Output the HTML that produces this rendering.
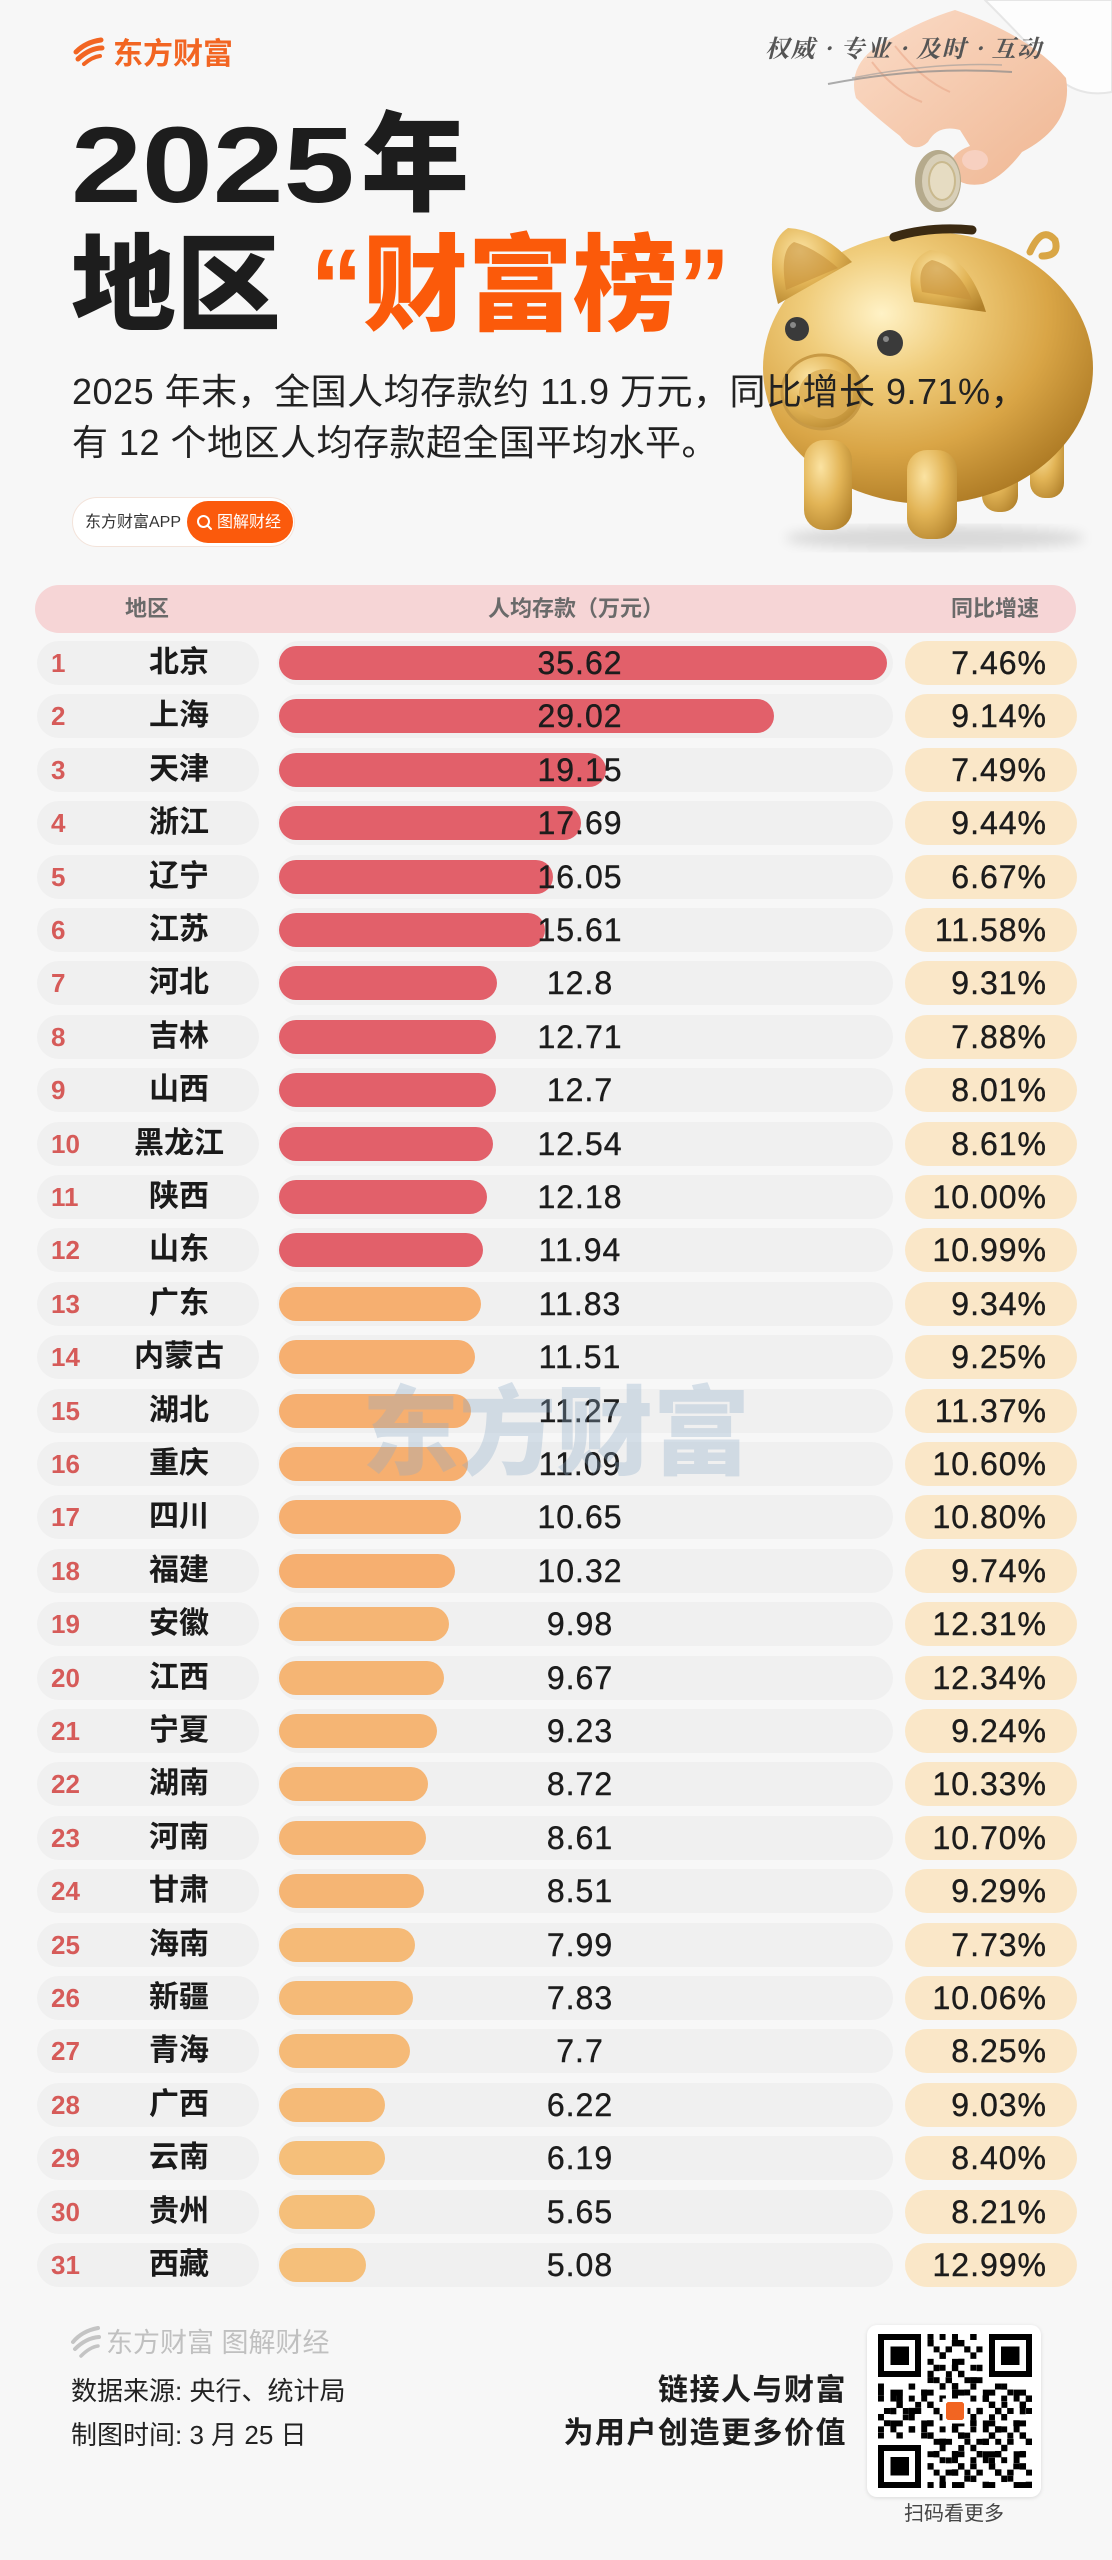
<!DOCTYPE html>
<html><head><meta charset="utf-8">
<style>
*{margin:0;padding:0;box-sizing:border-box}
body{width:1112px;height:2560px;background:#f7f7f7;position:relative;overflow:hidden;font-family:"Liberation Sans","Noto Sans CJK SC",sans-serif;color:#1a1a1a}
.a{position:absolute;white-space:nowrap}
.row{position:absolute;left:0;width:1112px;height:44px}
.lp{position:absolute;left:37px;top:0;width:222px;height:44px;border-radius:22px;background:#f0f0f0}
.rk{position:absolute;left:51px;top:0;line-height:44px;font-size:26px;font-weight:bold;color:#d65b59}
.nm{position:absolute;left:99px;width:160px;text-align:center;top:0;line-height:44px;font-size:30px;font-weight:700;color:#1a1a1a}
.tr{position:absolute;left:277px;width:616px;top:0;height:44px;border-radius:22px;background:#f0f0f0}
.br{position:absolute;left:279px;top:5px;height:34px;border-radius:17px}
.r{background:#e2606a}
.o1{background:#f6af70}.o2{background:#f5b574}.o3{background:#f5ba77}.o4{background:#f5bf7a}
.vl{position:absolute;left:480px;width:200px;text-align:center;top:0;line-height:44px;font-size:32px;letter-spacing:1px;color:#1c1c1c;-webkit-text-stroke:0.4px #1c1c1c}
.rp{position:absolute;left:905px;width:172px;top:0;height:44px;border-radius:22px;background:#fae7c8}
.pc{position:absolute;left:905px;width:142px;text-align:right;top:0;line-height:44px;font-size:32px;letter-spacing:1px;color:#1c1c1c;-webkit-text-stroke:0.4px #1c1c1c}
.hd{position:absolute;top:585px;height:48px;line-height:48px;font-size:22px;font-weight:700;color:#6a6a6a;text-align:center}
</style></head><body>

<svg class="a" style="left:0;top:0" width="1112" height="560" viewBox="0 0 1112 560">
<defs>
<radialGradient id="gold" cx="0.36" cy="0.3" r="0.78">
<stop offset="0" stop-color="#fff2c6"/>
<stop offset="0.3" stop-color="#f0cd7c"/>
<stop offset="0.65" stop-color="#d9a546"/>
<stop offset="1" stop-color="#a87520"/>
</radialGradient>
<radialGradient id="gold2" cx="0.35" cy="0.3" r="0.85">
<stop offset="0" stop-color="#fbe3a2"/>
<stop offset="0.5" stop-color="#e2b456"/>
<stop offset="1" stop-color="#b0802a"/>
</radialGradient>
<linearGradient id="skin" x1="0" y1="0" x2="1" y2="1">
<stop offset="0" stop-color="#fbdcc8"/>
<stop offset="1" stop-color="#efb692"/>
</linearGradient>
<filter id="bl"><feGaussianBlur stdDeviation="6"/></filter>
</defs>
<!-- hand -->
<path d="M985 0 L1112 0 L1112 92 Q1080 98 1058 78 Q1030 45 985 0Z" fill="#fdfdfd" stroke="#e6e6e6" stroke-width="2"/>
<path d="M955 10 Q1030 35 1066 78 Q1074 125 1022 152 Q1002 178 983 184 Q958 188 949 170 Q950 153 970 146 L960 130 Q938 124 928 142 Q914 155 900 136 Q872 114 856 98 Q848 70 872 50 Q915 22 955 10Z" fill="url(#skin)"/>
<path d="M872 62 Q895 92 922 102 M895 46 Q922 80 950 92" stroke="#e9a98a" stroke-width="2" fill="none" opacity="0.6"/>
<ellipse cx="975" cy="160" rx="13" ry="10" fill="#f7d0c0"/>
<!-- coin -->
<ellipse cx="938" cy="181" rx="23" ry="31" fill="#b5aa8c"/>
<ellipse cx="941" cy="181" rx="19" ry="27" fill="#d8cfb8"/>
<ellipse cx="942" cy="181" rx="13" ry="19" fill="#e6dcc2" stroke="#c9b98e" stroke-width="2"/>
<!-- brush strokes -->
<path d="M828 84 Q920 66 1012 72" stroke="#8a8a8a" stroke-width="2" fill="none" opacity="0.7"/>
<path d="M852 78 Q935 62 1002 65" stroke="#9a9a9a" stroke-width="1.5" fill="none" opacity="0.6"/>
<!-- pig shadow -->
<ellipse cx="935" cy="538" rx="150" ry="12" fill="#000" opacity="0.12" filter="url(#bl)"/>
<!-- tail -->
<path d="M1030 252 Q1042 225 1055 240 Q1060 256 1042 256" stroke="#d9a646" stroke-width="7" fill="none" stroke-linecap="round"/>
<!-- back legs -->
<rect x="1030" y="430" width="34" height="68" rx="15" fill="url(#gold2)"/>
<rect x="982" y="440" width="36" height="72" rx="16" fill="url(#gold2)"/>
<!-- body -->
<ellipse cx="928" cy="368" rx="165" ry="136" fill="url(#gold)"/>
<!-- front legs -->
<rect x="804" y="440" width="48" height="90" rx="20" fill="url(#gold2)"/>
<rect x="907" y="450" width="50" height="89" rx="20" fill="url(#gold2)"/>
<!-- ears -->
<path d="M778 304 Q762 244 788 228 Q822 230 852 262 Z" fill="url(#gold2)"/>
<path d="M786 290 Q779 250 794 242 Q815 248 838 268Z" fill="#c48e38" opacity="0.55"/>
<path d="M914 302 Q902 262 930 250 Q968 254 986 312 Z" fill="url(#gold2)"/>
<path d="M922 292 Q916 266 932 260 Q958 266 972 300Z" fill="#c48e38" opacity="0.55"/>
<!-- slot -->
<path d="M894 237 Q930 226 972 230" stroke="#3b2a12" stroke-width="9" fill="none" stroke-linecap="round"/>
<!-- eyes -->
<circle cx="797" cy="329" r="12" fill="#3a3a3a"/>
<circle cx="890" cy="343" r="13" fill="#3a3a3a"/>
<circle cx="793" cy="325" r="3" fill="#888"/>
<circle cx="886" cy="339" r="3" fill="#888"/>
<!-- snout -->
<ellipse cx="822" cy="392" rx="40" ry="37" fill="url(#gold2)" stroke="#c89a45" stroke-width="3"/>
<ellipse cx="826" cy="394" rx="27" ry="25" fill="#dcae55" opacity="0.8"/>
<!-- logo icon -->
<path d="M76 52 Q86 42 101 40" stroke="#f26522" stroke-width="5" fill="none" stroke-linecap="round"/>
<path d="M78 59 Q90 48 102 48" stroke="#f26522" stroke-width="5" fill="none" stroke-linecap="round"/>
<path d="M84 64 Q92 57 100 56" stroke="#f26522" stroke-width="4" fill="none" stroke-linecap="round"/>
</svg>

<div class="a" style="left:113px;top:40px;font-size:30px;line-height:30px;font-weight:700;color:#f26522">东方财富</div>
<div class="a" style="left:765px;top:35px;font-size:24px;line-height:24px;font-weight:700;color:#555;font-family:'Noto Serif CJK SC',serif;font-style:italic;letter-spacing:1.5px">权威 · 专业 · 及时 · 互动</div>

<div class="a" style="left:71px;top:111px;font-size:108px;line-height:108px;font-weight:900;color:#1d1d1d"><span style="display:inline-block;width:290px"><span style="display:inline-block;transform:scaleX(1.18);transform-origin:0 0">2025</span></span>年</div>
<div class="a" style="left:71px;top:234px;font-size:105px;line-height:105px;font-weight:900;color:#1d1d1d">地区 <span style="color:#fb5a0a">“财富榜”</span></div>

<div class="a" style="left:72px;top:374px;font-size:36px;line-height:36px;color:#222;letter-spacing:0.5px">2025 年末，全国人均存款约 11.9 万元，同比增长 9.71%，</div>
<div class="a" style="left:72px;top:425px;font-size:36px;line-height:36px;color:#222;letter-spacing:0.5px">有 12 个地区人均存款超全国平均水平。</div>

<div class="a" style="left:72px;top:497px;width:223px;height:50px;border-radius:25px;background:#fff;border:1px solid #f3e3da"></div>
<div class="a" style="left:187px;top:501px;width:106px;height:42px;border-radius:21px;background:#fb5a0c"></div>
<div class="a" style="left:85px;top:511px;font-size:16px;line-height:24px;color:#333">东方财富APP</div>
<svg class="a" style="left:196px;top:514px" width="17" height="18"><circle cx="7.5" cy="7.5" r="5.5" stroke="#fff" stroke-width="2" fill="none"/><path d="M11.5 11.5 L15 15" stroke="#fff" stroke-width="2" stroke-linecap="round"/></svg>
<div class="a" style="left:217px;top:511px;font-size:16px;line-height:24px;color:#fff">图解财经</div>

<div class="a" style="left:35px;top:585px;width:1041px;height:48px;border-radius:24px;background:#f6d5d6"></div>
<div class="hd" style="left:87px;width:120px">地区</div>
<div class="hd" style="left:436px;width:280px">人均存款（万元）</div>
<div class="hd" style="left:935px;width:120px">同比增速</div>

<div class="row" style="top:641px"><div class="lp"></div><div class="rk">1</div><div class="nm">北京</div><div class="tr"></div><div class="br r" style="width:608px"></div><div class="vl">35.62</div><div class="rp"></div><div class="pc">7.46%</div></div>
<div class="row" style="top:694.4px"><div class="lp"></div><div class="rk">2</div><div class="nm">上海</div><div class="tr"></div><div class="br r" style="width:495px"></div><div class="vl">29.02</div><div class="rp"></div><div class="pc">9.14%</div></div>
<div class="row" style="top:747.8px"><div class="lp"></div><div class="rk">3</div><div class="nm">天津</div><div class="tr"></div><div class="br r" style="width:327px"></div><div class="vl">19.15</div><div class="rp"></div><div class="pc">7.49%</div></div>
<div class="row" style="top:801.2px"><div class="lp"></div><div class="rk">4</div><div class="nm">浙江</div><div class="tr"></div><div class="br r" style="width:302px"></div><div class="vl">17.69</div><div class="rp"></div><div class="pc">9.44%</div></div>
<div class="row" style="top:854.6px"><div class="lp"></div><div class="rk">5</div><div class="nm">辽宁</div><div class="tr"></div><div class="br r" style="width:274px"></div><div class="vl">16.05</div><div class="rp"></div><div class="pc">6.67%</div></div>
<div class="row" style="top:908px"><div class="lp"></div><div class="rk">6</div><div class="nm">江苏</div><div class="tr"></div><div class="br r" style="width:266px"></div><div class="vl">15.61</div><div class="rp"></div><div class="pc">11.58%</div></div>
<div class="row" style="top:961.4px"><div class="lp"></div><div class="rk">7</div><div class="nm">河北</div><div class="tr"></div><div class="br r" style="width:218px"></div><div class="vl">12.8</div><div class="rp"></div><div class="pc">9.31%</div></div>
<div class="row" style="top:1014.8px"><div class="lp"></div><div class="rk">8</div><div class="nm">吉林</div><div class="tr"></div><div class="br r" style="width:217px"></div><div class="vl">12.71</div><div class="rp"></div><div class="pc">7.88%</div></div>
<div class="row" style="top:1068.2px"><div class="lp"></div><div class="rk">9</div><div class="nm">山西</div><div class="tr"></div><div class="br r" style="width:217px"></div><div class="vl">12.7</div><div class="rp"></div><div class="pc">8.01%</div></div>
<div class="row" style="top:1121.6px"><div class="lp"></div><div class="rk">10</div><div class="nm">黑龙江</div><div class="tr"></div><div class="br r" style="width:214px"></div><div class="vl">12.54</div><div class="rp"></div><div class="pc">8.61%</div></div>
<div class="row" style="top:1175px"><div class="lp"></div><div class="rk">11</div><div class="nm">陕西</div><div class="tr"></div><div class="br r" style="width:208px"></div><div class="vl">12.18</div><div class="rp"></div><div class="pc">10.00%</div></div>
<div class="row" style="top:1228.4px"><div class="lp"></div><div class="rk">12</div><div class="nm">山东</div><div class="tr"></div><div class="br r" style="width:204px"></div><div class="vl">11.94</div><div class="rp"></div><div class="pc">10.99%</div></div>
<div class="row" style="top:1281.8px"><div class="lp"></div><div class="rk">13</div><div class="nm">广东</div><div class="tr"></div><div class="br o1" style="width:202px"></div><div class="vl">11.83</div><div class="rp"></div><div class="pc">9.34%</div></div>
<div class="row" style="top:1335.2px"><div class="lp"></div><div class="rk">14</div><div class="nm">内蒙古</div><div class="tr"></div><div class="br o1" style="width:196px"></div><div class="vl">11.51</div><div class="rp"></div><div class="pc">9.25%</div></div>
<div class="row" style="top:1388.6px"><div class="lp"></div><div class="rk">15</div><div class="nm">湖北</div><div class="tr"></div><div class="br o1" style="width:192px"></div><div class="vl">11.27</div><div class="rp"></div><div class="pc">11.37%</div></div>
<div class="row" style="top:1442px"><div class="lp"></div><div class="rk">16</div><div class="nm">重庆</div><div class="tr"></div><div class="br o1" style="width:189px"></div><div class="vl">11.09</div><div class="rp"></div><div class="pc">10.60%</div></div>
<div class="row" style="top:1495.4px"><div class="lp"></div><div class="rk">17</div><div class="nm">四川</div><div class="tr"></div><div class="br o1" style="width:182px"></div><div class="vl">10.65</div><div class="rp"></div><div class="pc">10.80%</div></div>
<div class="row" style="top:1548.8px"><div class="lp"></div><div class="rk">18</div><div class="nm">福建</div><div class="tr"></div><div class="br o1" style="width:176px"></div><div class="vl">10.32</div><div class="rp"></div><div class="pc">9.74%</div></div>
<div class="row" style="top:1602.2px"><div class="lp"></div><div class="rk">19</div><div class="nm">安徽</div><div class="tr"></div><div class="br o2" style="width:170px"></div><div class="vl">9.98</div><div class="rp"></div><div class="pc">12.31%</div></div>
<div class="row" style="top:1655.6px"><div class="lp"></div><div class="rk">20</div><div class="nm">江西</div><div class="tr"></div><div class="br o2" style="width:165px"></div><div class="vl">9.67</div><div class="rp"></div><div class="pc">12.34%</div></div>
<div class="row" style="top:1709px"><div class="lp"></div><div class="rk">21</div><div class="nm">宁夏</div><div class="tr"></div><div class="br o2" style="width:158px"></div><div class="vl">9.23</div><div class="rp"></div><div class="pc">9.24%</div></div>
<div class="row" style="top:1762.4px"><div class="lp"></div><div class="rk">22</div><div class="nm">湖南</div><div class="tr"></div><div class="br o2" style="width:149px"></div><div class="vl">8.72</div><div class="rp"></div><div class="pc">10.33%</div></div>
<div class="row" style="top:1815.8px"><div class="lp"></div><div class="rk">23</div><div class="nm">河南</div><div class="tr"></div><div class="br o2" style="width:147px"></div><div class="vl">8.61</div><div class="rp"></div><div class="pc">10.70%</div></div>
<div class="row" style="top:1869.2px"><div class="lp"></div><div class="rk">24</div><div class="nm">甘肃</div><div class="tr"></div><div class="br o2" style="width:145px"></div><div class="vl">8.51</div><div class="rp"></div><div class="pc">9.29%</div></div>
<div class="row" style="top:1922.6px"><div class="lp"></div><div class="rk">25</div><div class="nm">海南</div><div class="tr"></div><div class="br o3" style="width:136px"></div><div class="vl">7.99</div><div class="rp"></div><div class="pc">7.73%</div></div>
<div class="row" style="top:1976px"><div class="lp"></div><div class="rk">26</div><div class="nm">新疆</div><div class="tr"></div><div class="br o3" style="width:134px"></div><div class="vl">7.83</div><div class="rp"></div><div class="pc">10.06%</div></div>
<div class="row" style="top:2029.4px"><div class="lp"></div><div class="rk">27</div><div class="nm">青海</div><div class="tr"></div><div class="br o3" style="width:131px"></div><div class="vl">7.7</div><div class="rp"></div><div class="pc">8.25%</div></div>
<div class="row" style="top:2082.8px"><div class="lp"></div><div class="rk">28</div><div class="nm">广西</div><div class="tr"></div><div class="br o3" style="width:106px"></div><div class="vl">6.22</div><div class="rp"></div><div class="pc">9.03%</div></div>
<div class="row" style="top:2136.2px"><div class="lp"></div><div class="rk">29</div><div class="nm">云南</div><div class="tr"></div><div class="br o4" style="width:106px"></div><div class="vl">6.19</div><div class="rp"></div><div class="pc">8.40%</div></div>
<div class="row" style="top:2189.6px"><div class="lp"></div><div class="rk">30</div><div class="nm">贵州</div><div class="tr"></div><div class="br o4" style="width:96px"></div><div class="vl">5.65</div><div class="rp"></div><div class="pc">8.21%</div></div>
<div class="row" style="top:2243px"><div class="lp"></div><div class="rk">31</div><div class="nm">西藏</div><div class="tr"></div><div class="br o4" style="width:87px"></div><div class="vl">5.08</div><div class="rp"></div><div class="pc">12.99%</div></div>

<!-- watermark -->
<div class="a" style="left:362px;top:1385px;font-size:97px;line-height:97px;font-weight:900;color:rgba(140,170,200,0.32)">东方财富</div>

<!-- footer -->
<svg class="a" style="left:70px;top:2326px" width="32" height="34">
<path d="M3 16 Q12 5 28 2" stroke="#c4c4c4" stroke-width="4" fill="none" stroke-linecap="round"/>
<path d="M5 23 Q16 12 29 11" stroke="#c4c4c4" stroke-width="4" fill="none" stroke-linecap="round"/>
<path d="M11 30 Q20 21 28 20" stroke="#c4c4c4" stroke-width="3.5" fill="none" stroke-linecap="round"/>
</svg>
<div class="a" style="left:106px;top:2328px;font-size:27px;line-height:30px;color:#c0c0c0">东方财富 图解财经</div>
<div class="a" style="left:71px;top:2376px;font-size:26px;line-height:30px;color:#222">数据来源: 央行、统计局</div>
<div class="a" style="left:71px;top:2420px;font-size:26px;line-height:30px;color:#222">制图时间: 3 月 25 日</div>
<div class="a" style="left:500px;width:347px;text-align:right;top:2375px;font-size:30px;line-height:32px;font-weight:700;color:#1d1d1d;letter-spacing:1.5px">链接人与财富</div>
<div class="a" style="left:500px;width:347px;text-align:right;top:2418px;font-size:30px;line-height:32px;font-weight:700;color:#1d1d1d;letter-spacing:1.5px">为用户创造更多价值</div>

<div class="a" style="left:867px;top:2325px;width:174px;height:172px;border-radius:10px;background:#fff;box-shadow:0 1px 4px rgba(0,0,0,0.12)"></div>
<svg class="a" style="left:878px;top:2334px" width="154" height="154" viewBox="0 0 25 25" shape-rendering="crispEdges">
<defs>
<pattern id="pa" width="5" height="5" patternUnits="userSpaceOnUse">
<rect x="0" y="0" width="1" height="1"/><rect x="2" y="0" width="1" height="1"/><rect x="3" y="1" width="1" height="1"/><rect x="1" y="2" width="1" height="1"/><rect x="4" y="2" width="1" height="1"/><rect x="0" y="3" width="1" height="1"/><rect x="2" y="4" width="1" height="1"/><rect x="3" y="4" width="1" height="1"/>
</pattern>
<pattern id="pb" width="7" height="7" patternUnits="userSpaceOnUse">
<rect x="1" y="0" width="1" height="1"/><rect x="5" y="1" width="1" height="1"/><rect x="0" y="2" width="1" height="1"/><rect x="3" y="3" width="1" height="1"/><rect x="6" y="4" width="1" height="1"/><rect x="2" y="5" width="1" height="1"/><rect x="4" y="6" width="1" height="1"/><rect x="5" y="5" width="1" height="1"/>
</pattern>
</defs>
<rect width="25" height="25" fill="url(#pa)"/>
<rect width="25" height="25" fill="url(#pb)"/>
<rect x="0" y="0" width="8" height="8" fill="#fff"/><rect x="17" y="0" width="8" height="8" fill="#fff"/><rect x="0" y="17" width="8" height="8" fill="#fff"/>
<rect x="0" y="0" width="7" height="7"/><rect x="1" y="1" width="5" height="5" fill="#fff"/><rect x="2" y="2" width="3" height="3"/>
<rect x="18" y="0" width="7" height="7"/><rect x="19" y="1" width="5" height="5" fill="#fff"/><rect x="20" y="2" width="3" height="3"/>
<rect x="0" y="18" width="7" height="7"/><rect x="1" y="19" width="5" height="5" fill="#fff"/><rect x="2" y="20" width="3" height="3"/>
<rect x="10.5" y="10.5" width="4" height="4" fill="#fff"/>
<rect x="11" y="11" width="3" height="3" rx="0.6" fill="#f26522"/>
</svg>
<div class="a" style="left:867px;width:174px;text-align:center;top:2502px;font-size:20px;line-height:24px;color:#444">扫码看更多</div>

</body></html>
